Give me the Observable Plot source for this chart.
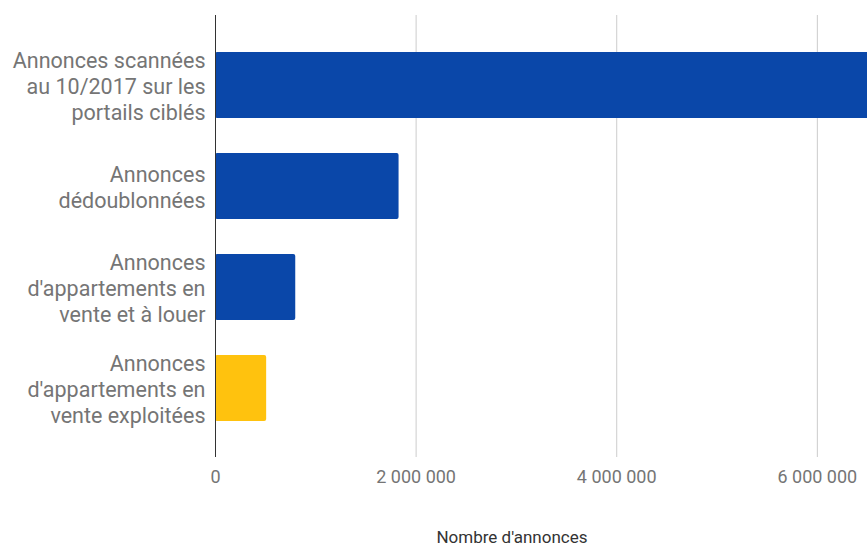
<!DOCTYPE html>
<html>
<head>
<meta charset="utf-8">
<script src="https://cdn.jsdelivr.net/npm/d3@7"></script>
<script src="https://cdn.jsdelivr.net/npm/@observablehq/plot@0.6"></script>
<style>
  html, body { margin: 0; padding: 0; background: #fff; overflow: hidden; }
  #wrap { position: relative; width: 867px; height: 548px; font-family: Roboto, sans-serif; }
  #xlabel { position: absolute; left: 512px; top: 537px; transform: translate(-50%, -50%); font-size: 17px; line-height: 20px; color: #333; white-space: nowrap; }
</style>
</head>
<body>
<div id="wrap"><div id="chart"></div><div id="xlabel">Nombre d'annonces</div></div>
<script>
const categories = [
  "Annonces scannées\nau 10/2017 sur les\nportails ciblés",
  "Annonces\ndédoublonnées",
  "Annonces\nd'appartements en\nvente et à louer",
  "Annonces\nd'appartements en\nvente exploitées"
];
const values = [7000000, 1830000, 800000, 510000];
const barColors = ["#0A47A9", "#0A47A9", "#0A47A9", "#FFC20E"];
const xTicks = [0, 2000000, 4000000, 6000000];

const data = categories.map((c, i) => ({ cat: c, value: values[i], color: barColors[i] }));
const fmt = d3.formatLocale({ decimal: ",", thousands: " ", grouping: [3], currency: ["", "€"] }).format(",d");

const chart = Plot.plot({
  width: 867,
  height: 510,
  marginLeft: 215,
  marginRight: 0,
  marginTop: 15,
  marginBottom: 53,
  style: { fontFamily: "Roboto, sans-serif", background: "#fff" },
  x: { domain: [0, 6500000] },
  y: { domain: categories, paddingInner: 0.35, paddingOuter: 0.363 },
  marks: [
    Plot.gridX(xTicks.slice(1), { stroke: "#cccccc", strokeOpacity: 1 }),
    Plot.barX(data, { x: "value", y: "cat", fill: "color", clip: true, rx: 2 }),
    Plot.ruleX([0], { stroke: "#333" }),
    Plot.axisY({ tickSize: 0, tickPadding: 10, fontSize: 21.5, lineHeight: 1.22, fill: "#757575", label: null }),
    Plot.axisX({ ticks: xTicks, tickSize: 0, tickPadding: 13, fontSize: 18, fill: "#757575", tickFormat: fmt, label: null })
  ]
});
document.getElementById("chart").appendChild(chart);
</script>
</body>
</html>
